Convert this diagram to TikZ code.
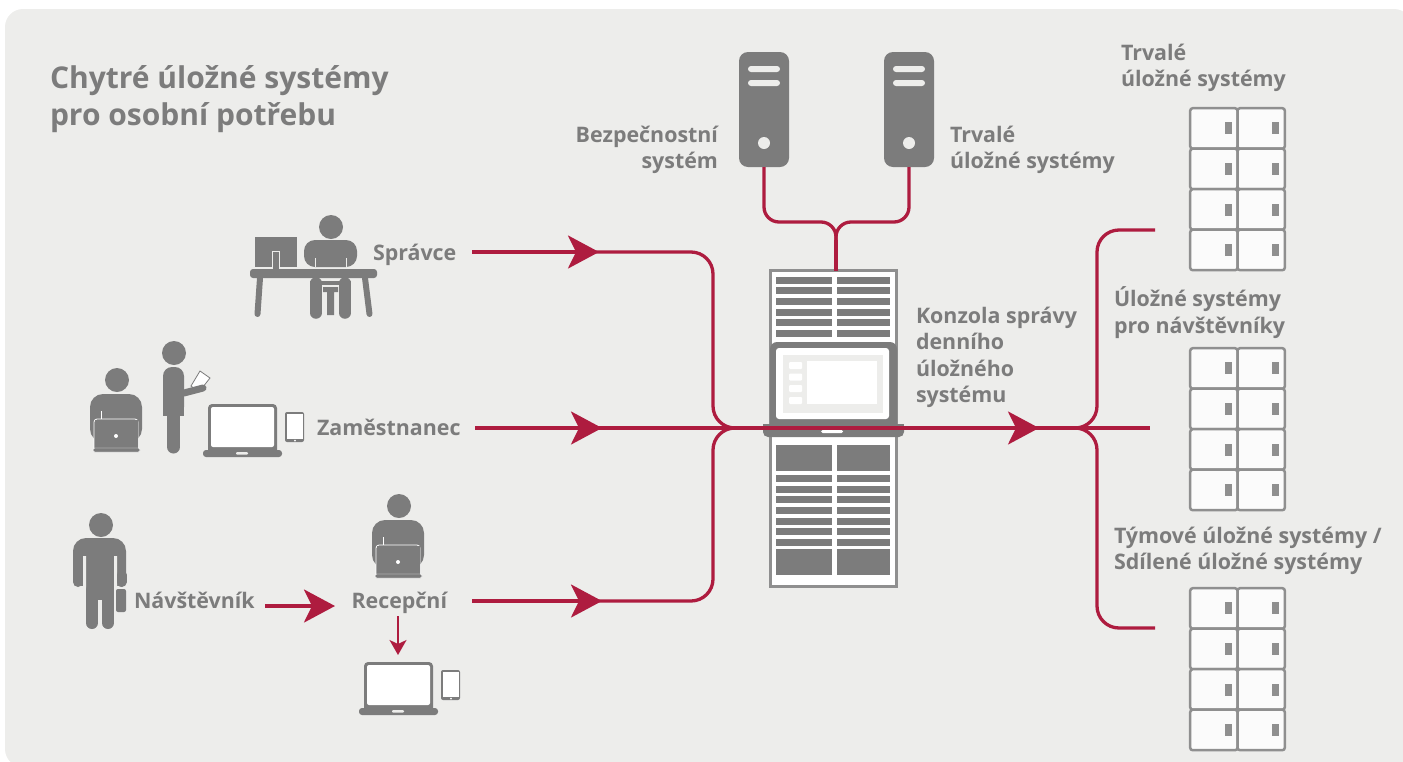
\documentclass[tikz,border=0pt]{standalone}
\usepackage{fontspec}
\setmainfont{Open Sans}
\usepackage{tikz}
\usetikzlibrary{calc,positioning,arrows.meta}

\definecolor{panelgray}{HTML}{EDEDEB}
\definecolor{icongray}{HTML}{7C7C7C}
\definecolor{lockergray}{HTML}{8F8F8F}
\definecolor{lockerwhite}{HTML}{FBFBFB}
\definecolor{cablered}{HTML}{AE1C3F}

\tikzset{
  label/.style={text=icongray, font=\bfseries\fontsize{21.4}{26.5}\selectfont, inner sep=0pt, outer sep=0pt},
  cable/.style={draw=cablered, line width=3.3pt, rounded corners=22pt},
  cablearrow/.style={draw=cablered, line width=3.3pt, -{Stealth[length=31pt, width=33pt, inset=8pt, fill=cablered]}},
  serverbox/.style={fill=icongray, rounded corners=9pt, minimum width=50pt, minimum height=115pt, inner sep=0pt, outer sep=0pt},
  rackbox/.style={draw=lockergray, line width=3pt, fill=white, minimum width=126pt, minimum height=316pt, inner sep=0pt, outer sep=0pt},
  pics/lockers/.style={code={
    \foreach \row in {0,1,2,3} {
      \foreach \col in {0,1} {
        \draw[draw=lockergray, fill=lockerwhite, line width=2.5pt, rounded corners=2.5pt]
          (1.2+47.3*\col,1.2+40.5*\row) rectangle (48.5+47.3*\col,41.7+40.5*\row);
        \fill[lockergray] (36+47*\col,15+40.8*\row) rectangle (43+47*\col,27+40.8*\row);
      }
    }
  }},
  pics/worker/.style={code={
    % origin is the centre of the head
    \fill[icongray] (0,0) circle (12pt);
    \fill[icongray, rounded corners=13pt] (-27,62) -- (-27,14) -- (25,14) -- (25,62) -- cycle;
    \draw[draw=white, fill=icongray, line width=.8pt, rounded corners=3pt] (-23,68) -- (-23,39) -- (21,39) -- (21,68);
    \fill[icongray] (-22.5,40) rectangle (20.5,68);
    \draw[white, line width=.8pt] (-16,31) -- (-16,39);
    \fill[white] (-1,56) circle (2pt);
    \fill[icongray, rounded corners=1.5pt, draw=white, line width=.4pt] (-24,68) rectangle (23,72);
  }},
  pics/devices/.style={code={
    % origin is the top left of the laptop base
    \fill[icongray, rounded corners=4pt] (5,0) rectangle (74,50);
    \fill[white, rounded corners=2pt] (8,3) rectangle (71,43);
    \fill[icongray, rounded corners=3pt] (0,46) rectangle (79,53);
    \fill[panelgray, rounded corners=1pt] (33,48) rectangle (45,50.5);
    \fill[icongray, rounded corners=2pt] (82,8) rectangle (101,38);
    \fill[white] (84,10) rectangle (99.5,35);
    \fill[white] (92,36.6) circle (.9pt);
  }},
}

\begin{document}
\begin{tikzpicture}[x=1pt, y=-1pt]
    \useasboundingbox (0,0) rectangle (1403,761);
    \fill[panelgray, rounded corners=18pt] (5,9) rectangle (1412,767);

    % title
    \node (title) [label, anchor=north west, align=left, font=\bfseries\fontsize{30}{36.5}\selectfont] at (50,66) {Chytré úložné systémy\\pro osobní potřebu};

    % servers
    \node (srvA) [serverbox] at (764,109.5) {};
    \node (srvB) [serverbox] at (909,109.5) {};
    \foreach \s in {srvA,srvB} {
        \fill[panelgray, rounded corners=3pt] ($(\s.north)+(-16,14)$) rectangle ($(\s.north)+(16,20)$);
        \fill[panelgray, rounded corners=3pt] ($(\s.north)+(-16,28)$) rectangle ($(\s.north)+(16,34)$);
        \fill[panelgray] ($(\s.north)+(0,91)$) circle (6pt);
    }
    \node (srvAtext) [label, anchor=north east, align=right] at (718,126) {Bezpečnostní\\systém};
    \node (srvBtext) [label, anchor=north west, align=left] at (950,126) {Trvalé\\úložné systémy};

    % rack with console
    \node (rack) [rackbox] at (833.5,428.5) {};
    \foreach \ya/\yb in {277/284,287/294,298/305,309/316,319/326,330/337,445/471,475/482,486/493,496/503,507/514,518/525,528/535,539/546,549/575} {
        \fill[icongray] (776,\ya) rectangle (832,\yb);
        \fill[icongray] (837,\ya) rectangle (890,\yb);
    }
    \fill[icongray, rounded corners=7pt] (770,430) -- (770,342) -- (897,342) -- (897,430) -- cycle;
    \fill[white, rounded corners=3pt] (776,348) rectangle (889,419);
    \fill[panelgray] (783,355) rectangle (883,413);
    \fill[white] (807,361) rectangle (877,404);
    \foreach \ya in {362,373.5,385,397} {
        \fill[white, rounded corners=1pt] (789,\ya) rectangle (802,\ya+7);
    }
    \fill[icongray, rounded corners=5pt] (763,424) -- (763,437) -- (904,437) -- (904,424) -- cycle;
    \fill[icongray] (763,424) rectangle (904,430);
    \fill[white, rounded corners=1.5pt] (821,430) rectangle (843,433);
    \node (rackinfo) [label, anchor=north west, align=left] at (916,307) {Konzola správy\\denního\\úložného\\systému};

    % storage
    \pic (lockA) at (1189,107) {lockers};
    \pic (lockB) at (1189,347) {lockers};
    \pic (lockC) at (1189,587) {lockers};
    \node (lockAtext) [label, anchor=north west, align=left] at (1121,44) {Trvalé\\úložné systémy};
    \node (lockBtext) [label, anchor=north west, align=left] at (1114,287) {Úložné systémy\\pro návštěvníky};
    \node (lockCtext) [label, anchor=north west, align=left] at (1114,527) {Týmové úložné systémy /\\Sdílené úložné systémy};

    % admin at the desk
    \fill[icongray] (331,227) circle (12pt);
    \fill[icongray, rounded corners=11pt] (304,267) -- (304,240) -- (357,240) -- (357,267) -- cycle;
    \draw[panelgray, line width=.8pt] (315,258) -- (315,267) (346,258) -- (346,267);
    \fill[icongray] (255,237) rectangle (297,267);
    \draw[draw=panelgray, fill=icongray, line width=.8pt] (272.5,251) rectangle (279,269);
    \fill[icongray, rounded corners=3pt] (250,269) rectangle (377,278);
    \draw[icongray, line width=6pt, line cap=round] (260,278) -- (257.5,314) (365,278) -- (369.5,314);
    \fill[icongray] (310,281) rectangle (351,285);
    \draw[icongray, line width=11.5pt, line cap=round] (316,283) -- (316,313) (345,283) -- (345,313);
    \fill[icongray] (323,287) rectangle (338,292) (327,292) rectangle (334,315);
    \node (spravce) [label, anchor=base west] at (373,260) {Správce};

    % employee
    \pic (emplA) at (117,380) {worker};
    \fill[icongray] (174,353) circle (12pt);
    \fill[icongray, rounded corners=9pt] (163,416) -- (163,367) -- (184,367) -- (184,416) -- cycle;
    \fill[icongray] (163,405) rectangle (184,416);
    \draw[icongray, line width=13pt, line cap=round] (173.5,416) -- (173.5,447);
    \draw[draw=icongray, fill=white, line width=.8pt] (200,371) -- (210,378) -- (199,392) -- (191,386) -- cycle;
    \draw[icongray, line width=7pt, line cap=round] (184,393) -- (203,388);
    \pic (emplB) at (203,404) {devices};
    \node (zamestnanec) [label, anchor=base west] at (317,435) {Zaměstnanec};

    % visitor
    \fill[icongray] (101,525) circle (12pt);
    \fill[icongray, rounded corners=13pt] (73,590) -- (73,538) -- (126,538) -- (126,590) -- cycle;
    \fill[icongray] (86,560) rectangle (114,600);
    \fill[panelgray] (83,556) rectangle (86,592) (114,556) rectangle (117,592);
    \fill[panelgray] (72,586) rectangle (85,592) (115,586) rectangle (127,592);
    \draw[icongray, line width=10pt, line cap=round] (78,575) -- (78,582) (121.5,575) -- (121.5,582);
    \draw[icongray, line width=12pt, line cap=round] (92,590) -- (92,623) (108,590) -- (108,623);
    \fill[icongray, rounded corners=2pt] (116,589) rectangle (126,612);
    \node (navstevnik) [label, anchor=base west] at (134,608) {Návštěvník};

    % reception
    \pic (recA) at (399,506) {worker};
    \node (recepcni) [label, anchor=base west] at (351.5,608) {Recepční};
    \pic (recB) at (359,662) {devices};

    % connectors
    \coordinate (spravceout) at (472,252);
    \coordinate (zamestout) at (475,428);
    \coordinate (recout) at (472,601);
    \coordinate (recdown) at (398,616);
    \coordinate (hub) at (736,428);
    \coordinate (storehub) at (1075,428);
    \coordinate (lockAin) at (1155,230);
    \coordinate (lockBin) at (1150,428);
    \coordinate (lockCin) at (1155,628);
    \coordinate (srvjoin) at (836,240);

    \draw[cablearrow] (spravceout) -- (599,252);
    \draw[cable] (spravceout) -- (713,252) -- (713,428) -- (hub);
    \draw[cablearrow] (recout) -- (602,601);
    \draw[cable] (recout) -- (713,601) -- (713,428) -- (hub);
    \draw[cablearrow] (zamestout) -- (602,428);
    \draw[cablearrow] (zamestout) -- (1039,428);
    \draw[cable] (zamestout) -- (lockBin);
    \draw[cable] (storehub) -- (1097,428) -- (1097,230) -- (lockAin);
    \draw[cable] (storehub) -- (1097,428) -- (1097,628) -- (lockCin);
    \draw[cable, rounded corners=15pt] (srvA.south) -- (764,222) -- (836,222) -- (srvjoin);
    \draw[cable, rounded corners=15pt] (srvB.south) -- (909,222) -- (836,222) -- (srvjoin);
    \draw[cable] (srvjoin) -- (srvjoin |- rack.north);
    \draw[cablearrow] (265,606) -- (335,606);
    \draw[draw=cablered, line width=2pt, -{Stealth[length=15pt, width=17pt, inset=4pt, fill=cablered]}] (recdown) -- (398,655);
\end{tikzpicture}
\end{document}
